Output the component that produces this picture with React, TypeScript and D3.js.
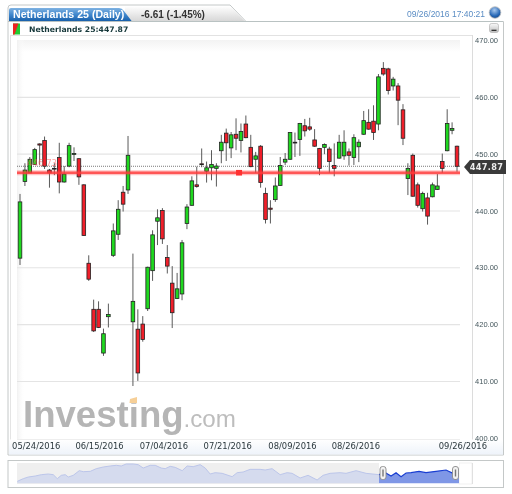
import React from "react";
import * as d3 from "d3";

const opens = [431.7,445.2,446.7,448.2,451.8,452.4,447.2,447.5,449.4,445.1,447.9,450.0,449.2,444.6,430.8,422.7,422.7,415.0,421.4,432.2,435.9,443.3,443.7,420.5,419.2,420.1,422.8,429.5,438.2,440.1,431.8,427.3,424.6,425.4,437.8,441.0,444.6,448.3,447.0,447.6,447.5,450.6,453.7,451.1,453.5,452.4,455.3,451.2,449.1,451.4,443.1,440.5,442.0,444.5,448.6,449.1,452.1,452.6,455.0,454.8,452.5,451.0,451.2,450.9,448.0,449.3,449.7,450.4,449.4,451.3,453.5,455.6,455.8,455.3,465.1,465.0,462.0,462.0,457.8,445.7,449.8,444.6,440.4,442.3,442.5,443.8,448.7,450.6,454.2,451.4];
const highs = [443.0,448.4,449.5,451.1,451.9,453.1,447.4,448.4,452.0,447.9,452.0,451.2,449.3,444.7,432.2,424.4,424.1,419.3,423.7,437.8,441.9,444.4,453.2,432.5,422.7,421.5,430.2,436.6,440.3,440.5,434.0,430.3,429.1,434.9,441.2,446.1,447.8,451.0,448.7,450.7,448.4,453.4,454.5,453.9,456.3,455.4,456.8,453.4,450.4,451.6,444.1,441.9,445.9,449.5,450.2,453.9,453.8,455.5,456.2,456.4,454.4,451.1,451.9,451.3,451.9,453.4,454.2,451.0,453.5,452.6,457.6,457.9,458.6,464.1,466.2,465.2,463.6,462.5,458.8,448.4,450.1,445.0,443.4,443.2,445.0,446.5,450.1,457.9,455.6,451.5];
const lows = [430.5,444.4,446.7,448.1,448.1,447.4,444.1,446.3,443.1,445.0,447.7,448.8,444.6,435.6,427.7,418.7,419.4,414.5,419.5,431.9,434.9,439.9,443.0,409.2,410.1,417.0,422.4,427.7,434.0,434.2,429.0,419.4,424.5,424.3,436.8,440.9,444.1,447.7,445.0,445.4,444.3,448.4,448.8,449.3,450.7,450.3,452.8,447.7,446.7,444.1,437.8,437.8,441.6,444.4,448.1,449.0,449.5,449.7,453.1,454.1,451.3,446.3,450.0,446.7,446.1,449.2,449.0,448.0,448.1,448.6,453.4,454.3,452.5,454.2,463.8,460.5,461.2,455.1,451.6,442.8,442.5,440.6,439.9,437.6,442.4,443.7,446.7,450.5,453.5,446.9];
const closes = [441.6,447.2,449.1,450.8,451.6,447.9,446.7,447.4,445.1,446.5,451.5,450.1,446.0,435.7,428.0,418.9,419.5,418.4,421.8,436.5,440.3,441.2,449.8,424.1,411.5,417.4,430.1,435.8,438.8,435.1,430.3,422.1,426.3,434.4,440.7,445.3,444.3,448.2,447.6,448.2,447.9,452.1,452.0,453.4,452.8,454.0,452.9,447.8,449.7,445.0,438.5,440.3,444.4,448.0,449.1,453.8,452.0,455.4,454.1,454.4,451.4,447.5,451.7,448.7,447.5,452.1,452.1,449.8,452.9,452.1,455.9,454.4,453.8,463.6,464.1,461.2,463.2,459.5,452.8,447.5,442.6,441.0,443.1,439.1,444.6,444.4,447.5,455.4,454.5,447.87];

const priceTicks = [470,460,450,440,430,420,410,400];
const dateLabels = ["05/24/2016","06/15/2016","07/04/2016","07/21/2016","08/09/2016","08/26/2016","09/26/2016"];
const dateSlots = [3.3,16.2,29.3,42.3,55.5,68.4,90.2];

const navDays = [0,6,11,18,24,31,36,40,44,48,51,56,62,66,73,79,86,93,99,104,109,116,121,126,133,138,144,148,153,158,165,170,176,183,188,193,198,205,215,220,226,233,243,248,255,263,270,275,283,291,300,306,313,323,329,339,349,362,367,374,379,384,389,394,402,409,419,429,436,442];
const navValues = [407.4,417.4,423.6,427.4,432.4,434.9,432.4,417.4,429.9,432.4,423.6,429.9,447.4,443.7,444.9,454.9,461.2,465,467.5,465,472.5,472.5,470,457.4,467.5,467.5,457.4,454.9,463.7,459.9,447.4,465,462.4,470,457.4,434.9,439.9,437.4,424.9,439.9,442.4,452.4,452.4,449.9,454.9,432.4,439.9,437.4,419.9,429.9,412.4,429.9,437.4,439.9,437.4,447.4,437.4,432.4,442.4,427.4,439.9,424.9,438.7,439.9,444.9,439.9,444.9,449.9,437.4,437.4];

const lastPrice = 447.87;
const linePrice = 446.73;

const y = d3.scaleLinear().domain([400, 470]).range([438.3, 40.5]);
const x = d3.scaleLinear().domain([0, 89]).range([20, 457]);
const navX = d3.scaleLinear().domain([0, 442]).range([17.3, 459]);
const navY = d3.scaleLinear().domain([400, 480]).range([483.3, 462]);
const navPts = navDays.map((d, i) => [d, navValues[i]] as [number, number]);
const navArea = d3.area<[number, number]>().x(d => navX(d[0])).y0(483.3).y1(d => navY(d[1]));
const navLine = d3.line<[number, number]>().x(d => navX(d[0])).y(d => navY(d[1]));

const sans = "'Liberation Sans', Arial, sans-serif";
const verd = "'DejaVu Sans', Verdana, sans-serif";

export default function App() {
  return (
    <svg width={512} height={494} style={{ position: "absolute", left: 0, top: 0, filter: "blur(0.35px)" }}>
      <defs>
        <linearGradient id="tabBlue" x1="0" x2="0" y1="0" y2="1">
          <stop offset="0" stopColor="#7fb2e2" /><stop offset="0.5" stopColor="#3f86cc" /><stop offset="1" stopColor="#155da8" />
        </linearGradient>
        <linearGradient id="tabGray" x1="0" x2="0" y1="0" y2="1">
          <stop offset="0" stopColor="#ffffff" /><stop offset="1" stopColor="#d6d6d6" />
        </linearGradient>
        <linearGradient id="topFade" x1="0" x2="0" y1="0" y2="1">
          <stop offset="0" stopColor="#f3f3f3" /><stop offset="1" stopColor="#ffffff" />
        </linearGradient>
        <linearGradient id="leftFade" x1="0" x2="1" y1="0" y2="0">
          <stop offset="0" stopColor="#f1f1f1" /><stop offset="1" stopColor="#ffffff" stopOpacity="0" />
        </linearGradient>
        <linearGradient id="dateBand" x1="0" x2="0" y1="0" y2="1">
          <stop offset="0" stopColor="#ffffff" /><stop offset="1" stopColor="#eef3fa" />
        </linearGradient>
        <radialGradient id="globe" cx="0.45" cy="0.3" r="0.8">
          <stop offset="0" stopColor="#a9c9ee" /><stop offset="0.6" stopColor="#2a6ab8" /><stop offset="1" stopColor="#0e3c7c" />
        </radialGradient>
        <linearGradient id="btn" x1="0" x2="0" y1="0" y2="1">
          <stop offset="0" stopColor="#fafafa" /><stop offset="1" stopColor="#bdbdbd" />
        </linearGradient>
        <clipPath id="navSel"><rect x={379} y={460} width={80} height={26} /></clipPath>
      </defs>

      <rect width={512} height={494} fill="#fff" />

      {/* Tabs */}
      <path d="M8 22 V8 Q8 5 11 5 H230 L246 21.5 H503.5 V455 H8 Z" fill="#fff" stroke="#c4c8c8" strokeWidth={1} />
      <path d="M125 21.5 V6 H230 L245 21.5 Z" fill="url(#tabGray)" />
      <path d="M9 21.5 V10 Q9 8 11 8 H119 Q122 8 124 11 L132 21.5 Z" fill="url(#tabBlue)" />
      <line x1={8} x2={503} y1={21.5} y2={21.5} stroke="#b9c2c2" />
      <text x={13} y={18} fontFamily={sans} fontWeight={700} fontSize={10.6} fill="#fff">Netherlands 25 (Daily)</text>
      <text x={141} y={18} fontFamily={sans} fontWeight={700} fontSize={10} fill="#333">-6.61 (-1.45%)</text>
      <text x={407} y={16.5} fontFamily={sans} fontSize={8.5} fill="#5b8dc4">09/26/2016 17:40:21</text>
      <circle cx={495} cy={12.5} r={5.8} fill="url(#globe)" stroke="#bbb" strokeWidth={0.8} />

      {/* Legend row */}
      <line x1={10} x2={472} y1={35.5} y2={35.5} stroke="#e2e2e2" />
      <rect x={13} y={23.5} width={7} height={11} fill="#22cc33" />
      <path d="M13 23.5 H18.5 L14.5 34.5 H13 Z" fill="#ee2222" />
      <text x={29} y={32} fontFamily={verd} fontWeight={700} fontSize={7.7} fill="#17393b">Netherlands 25:447.87</text>
      <rect x={489.5} y={23.5} width={9} height={9} rx={2} fill="url(#btn)" stroke="#aaa" strokeWidth={0.6} />
      <line x1={491.5} x2={496.5} y1={30.3} y2={30.3} stroke="#222" strokeWidth={1.2} />

      {/* Plot frame */}
      <line x1={10.5} x2={10.5} y1={35} y2={440} stroke="#e4e4e4" />
      <line x1={472.5} x2={472.5} y1={35} y2={440} stroke="#dcdcdc" />
      <rect x={17} y={40} width={443} height={12} fill="url(#topFade)" />
      <rect x={17} y={40} width={8} height={399} fill="url(#leftFade)" />

      {priceTicks.slice(1, 7).map(t => (
        <line key={t} x1={17} x2={460} y1={y(t)} y2={y(t)} stroke="#e4e4e4" strokeWidth={1.1} />
      ))}

      {/* Watermark */}
      <g>
        <text x={23} y={426.5} fontFamily={sans} fontWeight={700} fontSize={36.6} fill="#b5b5b5">Investing</text>
        <text x={183.5} y={426.5} fontFamily={sans} fontSize={24.2} fill="#bdbdbd">.com</text>
        <path d="M130 399 L137 397 V403 H129.5 Z" fill="#f6cf97" />
      </g>

      {/* Date band */}
      <rect x={9} y={439.5} width={494} height={15} fill="url(#dateBand)" />
      <line x1={17} x2={460} y1={439.5} y2={439.5} stroke="#eeeeee" />
      {dateLabels.map((d, i) => (
        <text key={d} x={x(dateSlots[i])} y={448.5} textAnchor="middle" fontFamily={verd} fontSize={8.4} fill="#2a373c">{d}</text>
      ))}
      {priceTicks.map(t => (
        <text key={t} x={498} y={y(t) + 2.6} textAnchor="end" fontFamily={sans} fontSize={7.5} fill="#44565c">{t.toFixed(2)}</text>
      ))}

      {/* Price lines beneath candles */}
      <line x1={17} x2={460} y1={y(lastPrice)} y2={y(lastPrice)} stroke="#555" strokeWidth={0.8} strokeDasharray="1 1" />

      {/* Candles */}
      {opens.map((o, i) => {
        const c = closes[i];
        const up = c >= o;
        const top = y(Math.max(o, c));
        const bot = y(Math.min(o, c));
        return (
          <g key={i}>
            <line x1={x(i)} x2={x(i)} y1={y(highs[i])} y2={y(lows[i])} stroke="#5a5a5a" strokeWidth={1} />
            <rect x={x(i) - 1.8} y={top} width={3.6} height={Math.max(bot - top, 0.8)}
              fill={up ? "#1fd81f" : "#f01f2a"} stroke="#222" strokeWidth={0.8} />
          </g>
        );
      })}

      {/* Horizontal level */}
      <line x1={17} x2={460} y1={y(linePrice)} y2={y(linePrice)} stroke="#ff3b3b" strokeOpacity={0.3} strokeWidth={5} />
      <line x1={17} x2={460} y1={y(linePrice)} y2={y(linePrice)} stroke="#ff3b3b" strokeOpacity={0.8} strokeWidth={2.6} />
      <rect x={x(44)} y={y(linePrice) - 2.8} width={6} height={5.6} fill="#ff3030" />
      <text x={27} y={165.6} fontFamily={verd} fontSize={8.6} fill="#ff5a5a" fillOpacity={0.6}>{linePrice.toFixed(2)}</text>

      {/* Last-price tag */}
      <path d="M464 167 L470 160 H506 V174 H470 Z" fill="#3a3a3a" />
      <text x={486.5} y={170} textAnchor="middle" fontFamily={verd} fontWeight={700} fontSize={8.2} letterSpacing={0.3} fill="#eee">{lastPrice.toFixed(2)}</text>

      {/* Navigator */}
      <rect x={8} y={460.5} width={495.5} height={27} fill="#fff" stroke="#c4c8c8" />
      <rect x={17} y={463} width={362} height={21} fill="#efefef" />
      <rect x={459} y={463} width={13} height={21} fill="#fff" stroke="#e6e6e6" strokeWidth={0.6} />
      <line x1={472.5} x2={472.5} y1={463} y2={484} stroke="#e0e0e0" />
      <path d={navArea(navPts) ?? ""} fill="#d5dbee" />
      <path d={navLine(navPts) ?? ""} fill="none" stroke="#bcc6ea" strokeWidth={1} />
      <g clipPath="url(#navSel)">
        <rect x={379} y={462} width={80} height={22} fill="#fff" />
        <path d={navArea(navPts) ?? ""} fill="#7f97e6" />
        <path d={navLine(navPts) ?? ""} fill="none" stroke="#1a3fd2" strokeWidth={1.2} />
      </g>
      {[383, 455.5].map(h => (
        <g key={h}>
          <rect x={h - 3} y={466.5} width={6} height={13} rx={2.5} fill="#f2f2f2" stroke="#8a8a8a" strokeWidth={0.9} />
          <line x1={h} x2={h} y1={469.5} y2={476.5} stroke="#777" strokeWidth={1.4} />
        </g>
      ))}
    </svg>
  );
}
